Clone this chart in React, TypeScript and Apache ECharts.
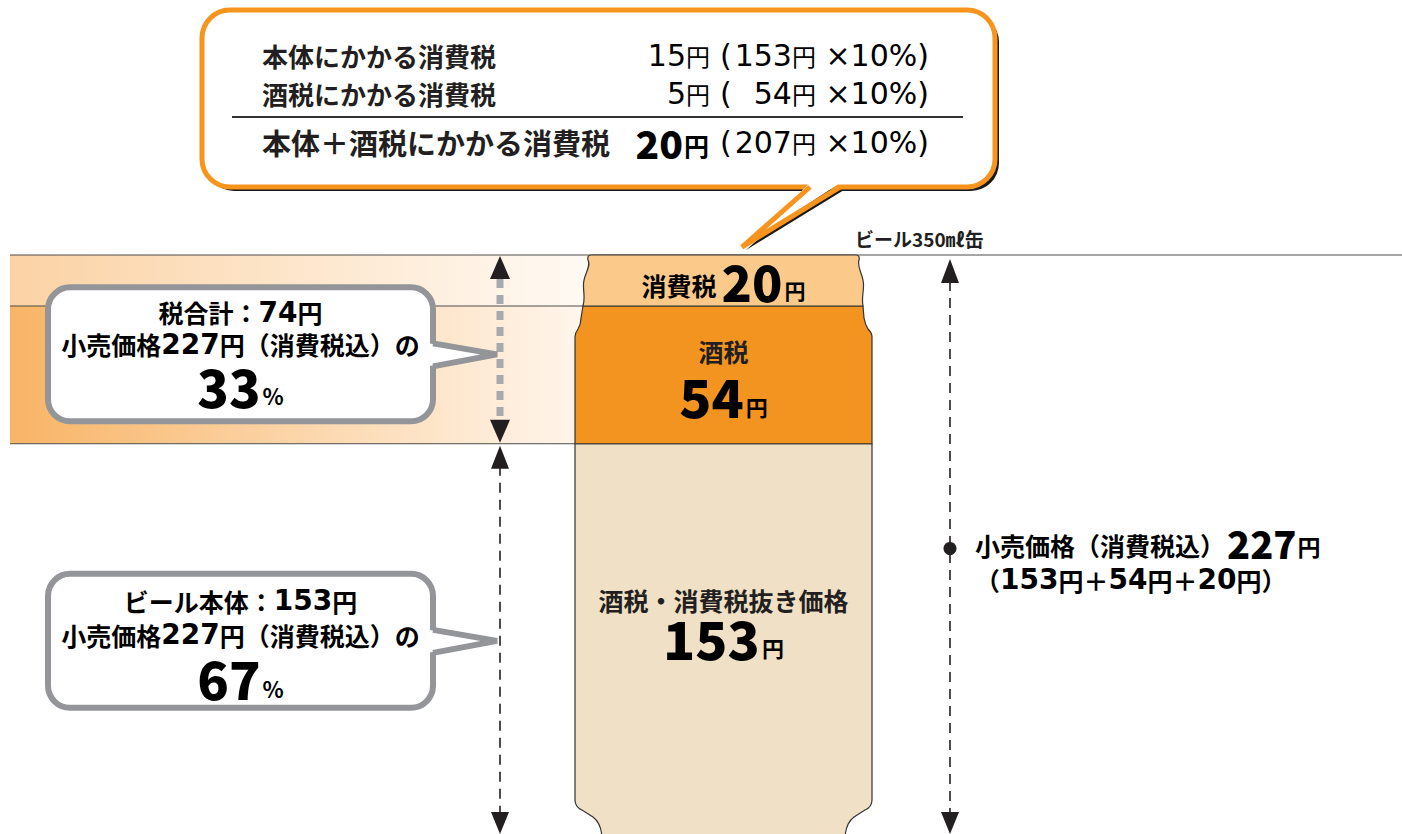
import React, { useEffect, useRef } from 'react';
import * as echarts from 'echarts';

// ---------- data ----------
const categories = ['ビール350㎖缶'];
const segmentNames = ['酒税・消費税抜き価格', '酒税', '消費税'];
const segmentValues = [153, 54, 20];
const retailLabel = '小売価格（消費税込）';
const taxTotal = 74;
const sharePercents = [33, 67]; // tax share, beer body share
const calloutTitles = ['税合計', 'ビール本体'];
const breakdownLabels = ['本体にかかる消費税', '酒税にかかる消費税', '本体＋酒税にかかる消費税'];
const breakdownTaxes = [15, 5, 20];
const breakdownBases = [153, 54, 207];
const consumptionTaxRate = 10;

const total = segmentValues.reduce((a, b) => a + b, 0);
const starts = segmentValues.map((_, i) => segmentValues.slice(0, i).reduce((a, b) => a + b, 0));

// ---------- styles ----------
const JP = '"Noto Sans CJK JP", "Noto Sans", sans-serif';
const LAT = '"DejaVu Sans", "Noto Sans CJK JP", sans-serif';
const INK = '#231F20';
const SEG_FILL = ['#F0E0C6', '#F39420', '#FBC98A'];
const ORANGE = '#F7941D';
const GRAY = '#939598';
const LEFT_ARROW_X = 500;
const RIGHT_ARROW_X = 950;

const RUN = /[\x20-\x7E\u00D7]+|[^\x20-\x7E\u00D7]+/g;
function mixed(text: string) {
  return (text.match(RUN) || [])
    .map((run) => (/^[\x20-\x7E\u00D7]/.test(run) ? `{d|${run}}` : `{j|${run}}`))
    .join('');
}
function mixedRich(dSize: number, dWeight: any, jSize: number, jWeight: any) {
  const lh = Math.max(dSize, jSize) + 2;
  return {
    d: { fontFamily: LAT, fontSize: dSize, fontWeight: dWeight, color: INK, lineHeight: lh },
    j: { fontFamily: JP, fontSize: jSize, fontWeight: jWeight, color: INK, lineHeight: lh },
  };
}

const numRich = (big: number, small: number, lead = 25) => ({
  n: { fontFamily: JP, fontSize: big, fontWeight: 900, color: INK, verticalAlign: 'bottom' },
  u: { fontFamily: JP, fontSize: small, fontWeight: 'bold', color: INK, verticalAlign: 'bottom', padding: [0, 0, 5, 2] },
  a: { fontFamily: JP, fontSize: lead, fontWeight: 'bold', color: INK, verticalAlign: 'bottom', padding: [0, 5, 7, 0] },
});

function tri(x: number, tipY: number, baseY: number, hw: number) {
  return {
    type: 'polygon',
    shape: { points: [[x, tipY], [x - hw, baseY], [x + hw, baseY]] },
    style: { fill: INK },
  };
}

function callout(yc: number, tipX: number, title: string, pct: number, offs: number[]) {
  const bx = 48, bw = 385, bh = 134, by = yc - bh / 2, rx = bx + bw;
  const cx = bx + bw / 2;
  const rich = mixedRich(28, 'bold', 25, 'bold');
  return [
    { type: 'rect', shape: { x: bx, y: by, width: bw, height: bh, r: 22 }, style: { fill: '#fff', stroke: GRAY, lineWidth: 6 } },
    { type: 'polygon', shape: { points: [[rx - 5, yc - 11], [tipX, yc], [rx - 5, yc + 12]] }, style: { fill: '#fff' } },
    { type: 'polyline', shape: { points: [[rx, yc - 11], [tipX, yc], [rx, yc + 12]] }, style: { fill: 'none', stroke: GRAY, lineWidth: 6 } },
    { type: 'text', style: { text: mixed(title), rich, x: cx, y: yc + offs[0], align: 'center', verticalAlign: 'middle' } },
    { type: 'text', style: { text: mixed(`小売価格${total}円（消費税込）の`), rich, x: cx, y: yc + offs[1], align: 'center', verticalAlign: 'middle' } },
    { type: 'text', style: { text: `{n|${pct}}{u|%}`, x: cx, y: yc + offs[2], align: 'center', verticalAlign: 'middle', rich: numRich(52, 22) } },
  ];
}

function annotationsRenderItem(params: any, api: any) {
  const bodyTop = api.value(1);
  const top = api.value(2);
  const c0 = api.coord([0, 0]);
  const yZero = c0[1];
  const yBody = api.coord([0, bodyTop])[1];
  const yCons = api.coord([0, bodyTop + segmentValues[1]])[1];
  const yTotal = api.coord([0, top])[1];
  const w = api.size([1, 0])[0];
  const L = c0[0] - w / 2, R = c0[0] + w / 2;
  const AX = LEFT_ARROW_X, BX = RIGHT_ARROW_X;
  const mid = (yTotal + yZero) / 2;
  const lineStyle = { stroke: '#4D4D4D', lineWidth: 1 };
  const children: any[] = [
    {
      type: 'rect', shape: { x: 10, y: yTotal, width: L + 14 - 10, height: yCons - yTotal },
      style: { fill: new echarts.graphic.LinearGradient(0, 0, 1, 0, [{ offset: 0, color: '#FBD2A4' }, { offset: 1, color: '#FFFAF4' }]) },
    },
    {
      type: 'rect', shape: { x: 10, y: yCons, width: L + 6 - 10, height: yBody - yCons },
      style: { fill: new echarts.graphic.LinearGradient(0, 0, 1, 0, [{ offset: 0, color: '#F8B466' }, { offset: 1, color: '#FFF6EC' }]) },
    },
    { type: 'line', shape: { x1: 10, y1: yTotal, x2: 1402, y2: yTotal }, style: lineStyle },
    { type: 'line', shape: { x1: 10, y1: yCons, x2: L + 8, y2: yCons }, style: lineStyle },
    { type: 'line', shape: { x1: 10, y1: yBody, x2: L, y2: yBody }, style: lineStyle },
    // left upper (tax) arrow
    { type: 'line', shape: { x1: AX, y1: yTotal + 24, x2: AX, y2: yBody - 22 }, style: { stroke: '#A7A9AC', lineWidth: 7, lineDash: [9, 7] } },
    tri(AX, yTotal + 1, yTotal + 24, 10),
    tri(AX, yBody - 1, yBody - 24, 10),
    // left lower (body) arrow
    { type: 'line', shape: { x1: AX, y1: yBody + 22, x2: AX, y2: yZero - 20 }, style: { stroke: INK, lineWidth: 1.6, lineDash: [10, 7] } },
    tri(AX, yBody + 2, yBody + 25, 9),
    tri(AX, yZero, yZero - 22, 9),
    // right total arrow
    { type: 'line', shape: { x1: BX, y1: yTotal + 26, x2: BX, y2: yZero - 20 }, style: { stroke: INK, lineWidth: 1.6, lineDash: [10, 7] } },
    tri(BX, yTotal + 4, yTotal + 28, 9),
    tri(BX, yZero, yZero - 22, 9),
    { type: 'circle', shape: { cx: BX, cy: mid + 4, r: 6.5 }, style: { fill: INK } },
    {
      type: 'text',
      style: {
        text: `{a|${retailLabel}}{n|${total}}{u|円}`, x: BX + 25, y: mid - 2, align: 'left', verticalAlign: 'middle',
        rich: {
          a: { fontFamily: JP, fontSize: 25, fontWeight: 'bold', color: INK, verticalAlign: 'bottom', padding: [0, 2, 4, 0] },
          n: { fontFamily: JP, fontSize: 38, fontWeight: 900, color: INK, verticalAlign: 'bottom' },
          u: { fontFamily: JP, fontSize: 23, fontWeight: 'bold', color: INK, verticalAlign: 'bottom', padding: [0, 0, 4, 1] },
        },
      },
    },
    {
      type: 'text',
      style: {
        text: mixed(`（${segmentValues.join('円＋')}円）`), rich: mixedRich(28, 'bold', 25, 'bold'),
        x: BX + 25, y: mid + 35, align: 'left', verticalAlign: 'middle',
      },
    },
    {
      type: 'text',
      style: { text: categories[0], x: R - 17, y: yTotal - 17, align: 'left', verticalAlign: 'middle', fontFamily: JP, fontSize: 19, fontWeight: 'bold', fill: INK },
    },
    ...callout((yTotal + yBody) / 2 + 5, AX - 3, `${calloutTitles[0]}：${taxTotal}円`, sharePercents[0], [-42, -10, 31]),
    ...callout((yBody + yZero) / 2 + 2, AX - 3, `${calloutTitles[1]}：${segmentValues[0]}円`, sharePercents[1], [-40, -6, 37]),
  ];
  return { type: 'group', children };
}

function canRenderItem(params: any, api: any) {
  const i = params.dataIndex;
  const pb = api.coord([api.value(0), api.value(1)]);
  const pt = api.coord([api.value(0), api.value(2)]);
  const w = api.size([1, 0])[0];
  const cx = pb[0];
  const L = cx - w / 2, R = cx + w / 2;
  const yb = pb[1], yt = pt[1];
  let d = '';
  if (i === 0) {
    const e = yb + 3;
    d = `M${L},${yt} L${R},${yt} L${R},${yb - 34} Q${R},${yb - 27} ${R - 7},${yb - 24} L${R - 18},${yb - 17} Q${R - 26},${yb - 11} ${R - 27},${e} L${L + 27},${e} Q${L + 26},${yb - 11} ${L + 18},${yb - 17} L${L + 7},${yb - 24} Q${L},${yb - 27} ${L},${yb - 34} Z`;
  } else if (i === 1) {
    d = `M${L},${yb} L${L},${yt + 31} Q${L},${yt + 27} ${L + 3},${yt + 23} Q${L + 6},${yt + 18} ${L + 6},${yt + 12} L${L + 8},${yt} L${R - 9},${yt} L${R - 8},${yt + 12} Q${R - 7},${yt + 18} ${R - 4},${yt + 23} Q${R},${yt + 27} ${R},${yt + 31} L${R},${yb} Z`;
  } else {
    d = `M${L + 8},${yb} C${L + 11},${yb - 10} ${L + 7},${yb - 17} ${L + 9},${yb - 26} C${L + 11},${yb - 35} ${L + 16},${yb - 40} ${L + 13},${yb - 46} Q${L + 12},${yt} ${L + 16},${yt} L${R - 16},${yt} Q${R - 12},${yt} ${R - 13},${yb - 46} C${R - 15},${yb - 40} ${R - 11},${yb - 35} ${R - 9},${yb - 26} C${R - 7},${yb - 17} ${R - 11},${yb - 10} ${R - 9},${yb} Z`;
  }
  const children: any[] = [
    { type: 'path', shape: { pathData: d }, style: { fill: SEG_FILL[i], stroke: '#333', lineWidth: 1.2 } },
  ];
  const name = segmentNames[i];
  const val = segmentValues[i];
  if (i === 2) {
    children.push({
      type: 'text',
      style: { text: `{a|${name}}{n|${val}}{u|円}`, x: cx, y: yt + 25, align: 'center', verticalAlign: 'middle', rich: numRich(50, 21, 25) },
    });
  } else {
    const offs = i === 0 ? [156, 193] : [45, 89];
    children.push({
      type: 'text',
      style: { text: name, x: cx, y: yt + offs[0], align: 'center', verticalAlign: 'middle', fontFamily: JP, fontSize: 25, fontWeight: 'bold', fill: INK },
    });
    children.push({
      type: 'text',
      style: { text: `{n|${val}}{u|円}`, x: cx, y: yt + offs[1], align: 'center', verticalAlign: 'middle', rich: numRich(53, 22) },
    });
  }
  return { type: 'group', children };
}

function topCallout(): any[] {
  const x = 202, y = 10, w = 793, h = 177, r = 28;
  const tail = [[810, y + h], [742, 247], [840, y + h]];
  const els: any[] = [
    { type: 'rect', shape: { x: x + 4, y: y + 4, width: w, height: h, r }, style: { fill: '#1A1A1A' } },
    { type: 'polygon', shape: { points: tail.map((p) => [p[0] + 4, p[1] + 3]) }, style: { fill: '#1A1A1A' } },
    { type: 'rect', shape: { x, y, width: w, height: h, r }, style: { fill: '#fff', stroke: ORANGE, lineWidth: 5 } },
    { type: 'polygon', shape: { points: [[810, y + h - 4], [742, 247], [840, y + h - 4]] }, style: { fill: '#fff' } },
    { type: 'polyline', shape: { points: tail }, style: { fill: 'none', stroke: ORANGE, lineWidth: 5 } },
    { type: 'line', shape: { x1: 232, y1: 117, x2: 963, y2: 117 }, style: { stroke: '#333', lineWidth: 2 } },
  ];
  const rowY = [55, 93, 142];
  const numStyle = mixedRich(30, 'normal', 24, 'normal');
  breakdownLabels.forEach((lab, k) => {
    const last = k === 2;
    els.push({
      type: 'text',
      style: { text: lab, x: 262, y: rowY[k], align: 'left', verticalAlign: 'middle', fontFamily: JP, fontSize: last ? 29 : 26, fontWeight: 'bold', fill: INK },
    });
    if (last) {
      els.push({
        type: 'text',
        style: {
          text: `{n|${breakdownTaxes[k]}}{u|円}`, x: 709, y: rowY[k], align: 'right', verticalAlign: 'middle',
          rich: {
            n: { fontFamily: JP, fontSize: 39, fontWeight: 900, color: INK, verticalAlign: 'bottom' },
            u: { fontFamily: JP, fontSize: 25, fontWeight: 'bold', color: INK, verticalAlign: 'bottom', padding: [0, 0, 4, 1] },
          },
        },
      });
    } else {
      els.push({
        type: 'text',
        style: { text: mixed(`${breakdownTaxes[k]}円`), rich: numStyle, x: 710, y: rowY[k], align: 'right', verticalAlign: 'middle' },
      });
    }
    els.push({
      type: 'text',
      style: { text: mixed('('), rich: numStyle, x: 720, y: rowY[k], align: 'left', verticalAlign: 'middle' },
    });
    els.push({
      type: 'text',
      style: { text: mixed(`${breakdownBases[k]}円 ×${consumptionTaxRate}%)`), rich: numStyle, x: 929, y: rowY[k], align: 'right', verticalAlign: 'middle' },
    });
  });
  return els;
}

export default function App() {
  const ref = useRef<HTMLDivElement>(null);
  useEffect(() => {
    if (!ref.current) return;
    const chart = echarts.init(ref.current, null, { renderer: 'svg' });
    chart.setOption({
      animation: false,
      backgroundColor: '#ffffff',
      grid: { left: 575, right: 530, top: 255, bottom: 0 },
      xAxis: { type: 'category', data: categories, show: false },
      yAxis: { type: 'value', min: 0, max: total, show: false },
      graphic: topCallout(),
      series: [
        {
          type: 'custom',
          name: 'annotations',
          renderItem: annotationsRenderItem,
          encode: { x: 0, y: [1, 2] },
          data: [[0, segmentValues[0], total]],
          silent: true,
          z: 1,
        },
        {
          type: 'custom',
          name: categories[0],
          renderItem: canRenderItem,
          encode: { x: 0, y: [1, 2] },
          data: segmentValues.map((v, i) => ({ name: segmentNames[i], value: [0, starts[i], starts[i] + v] })),
          z: 3,
        },
      ],
    });
    return () => chart.dispose();
  }, []);
  return <div ref={ref} style={{ position: 'absolute', left: 0, top: 0, width: 1402, height: 834 }} />;
}
